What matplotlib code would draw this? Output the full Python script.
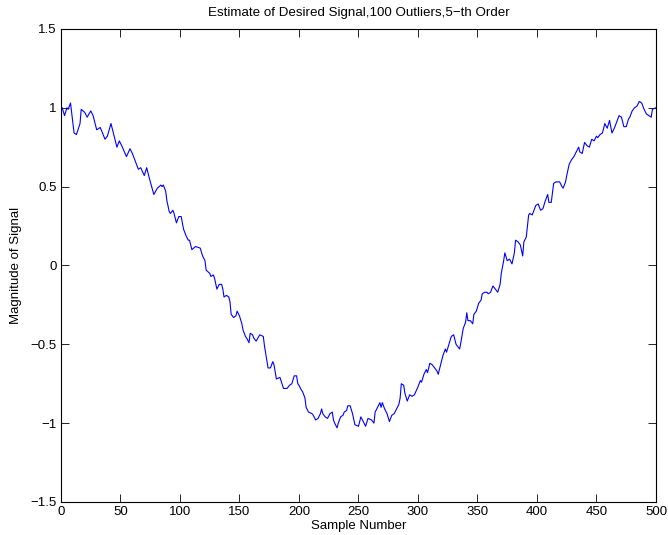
import numpy as np
import matplotlib.pyplot as plt

# sample index and signal magnitude
sample = [0, 1, 3, 5, 6, 8, 11, 13, 16, 17, 20, 22, 25, 27, 30, 33, 37, 39, 42, 44,
          47, 49, 51, 55, 58, 60, 65, 67, 70, 72, 74, 78, 81, 84, 85, 86, 88, 89, 91, 92,
          94, 95, 97, 99, 101, 103, 105, 107, 108, 110, 113, 115, 117, 119, 121, 122, 125, 126, 128, 129,
          131, 133, 135, 136, 137, 139, 141, 142, 143, 145, 147, 148, 150, 152, 153, 155, 156, 158, 159, 161,
          162, 164, 167, 170, 171, 174, 176, 178, 179, 181, 184, 187, 190, 192, 194, 196, 198, 199, 200, 202,
          203, 205, 206, 208, 211, 212, 214, 216, 218, 219, 220, 222, 224, 226, 228, 229, 230, 232, 233, 235,
          237, 238, 240, 241, 243, 245, 247, 250, 252, 254, 256, 258, 261, 263, 264, 266, 268, 269, 270, 272,
          274, 276, 278, 280, 282, 284, 285, 286, 288, 289, 291, 293, 295, 297, 300, 302, 303, 305, 307, 308,
          310, 312, 313, 316, 317, 319, 321, 323, 324, 326, 328, 330, 332, 335, 336, 338, 340, 341, 342, 344,
          346, 347, 349, 351, 353, 354, 356, 358, 359, 361, 363, 365, 367, 369, 370, 372, 373, 375, 377, 379,
          381, 382, 384, 386, 388, 389, 391, 393, 394, 396, 397, 399, 401, 403, 405, 407, 409, 410, 412, 414,
          416, 419, 421, 422, 424, 425, 427, 429, 431, 433, 435, 436, 438, 440, 442, 444, 446, 448, 450, 451,
          453, 455, 457, 459, 461, 463, 465, 467, 469, 471, 473, 475, 477, 478, 480, 482, 484, 486, 488, 490,
          492, 494, 496, 497, 500]
magnitude = [1.00, 1.00, 0.95, 1.00, 0.99, 1.03, 0.84, 0.83, 0.90, 0.99, 0.97, 0.94, 0.98, 0.95, 0.86, 0.875, 0.80, 0.82, 0.90, 0.84,
             0.75, 0.79, 0.76, 0.69, 0.74, 0.71, 0.61, 0.62, 0.57, 0.62, 0.56, 0.45, 0.49, 0.51, 0.50, 0.51, 0.47, 0.41, 0.34, 0.33,
             0.35, 0.33, 0.27, 0.31, 0.31, 0.23, 0.19, 0.16, 0.16, 0.10, 0.12, 0.115, 0.11, 0.06, 0.03, -0.03, -0.05, -0.07, -0.06, -0.08,
             -0.15, -0.12, -0.12, -0.15, -0.20, -0.19, -0.20, -0.23, -0.31, -0.33, -0.32, -0.29, -0.32, -0.37, -0.41, -0.45, -0.46, -0.49, -0.43, -0.44,
             -0.46, -0.48, -0.44, -0.45, -0.51, -0.65, -0.65, -0.61, -0.63, -0.72, -0.71, -0.78, -0.78, -0.76, -0.75, -0.70, -0.70, -0.75, -0.76, -0.79,
             -0.80, -0.84, -0.90, -0.93, -0.94, -0.95, -0.98, -0.97, -0.94, -0.91, -0.94, -0.96, -0.97, -0.94, -0.93, -0.98, -1.00, -1.03, -1.00, -0.96,
             -0.95, -0.93, -0.92, -0.89, -0.89, -0.94, -1.01, -1.02, -0.96, -0.99, -1.02, -0.97, -0.98, -1.00, -0.93, -0.90, -0.87, -0.90, -0.87, -0.91,
             -0.94, -0.99, -0.95, -0.94, -0.91, -0.88, -0.84, -0.75, -0.76, -0.81, -0.86, -0.82, -0.83, -0.82, -0.77, -0.73, -0.74, -0.69, -0.66, -0.68,
             -0.62, -0.63, -0.64, -0.67, -0.69, -0.63, -0.57, -0.53, -0.55, -0.50, -0.45, -0.44, -0.50, -0.53, -0.49, -0.40, -0.36, -0.30, -0.35, -0.35,
             -0.37, -0.31, -0.29, -0.24, -0.22, -0.18, -0.17, -0.17, -0.18, -0.17, -0.13, -0.15, -0.17, -0.12, -0.05, 0.03, 0.08, 0.03, 0.04, 0.01,
             0.08, 0.16, 0.15, 0.13, 0.06, 0.15, 0.18, 0.32, 0.33, 0.32, 0.34, 0.38, 0.39, 0.35, 0.36, 0.41, 0.45, 0.40, 0.40, 0.52,
             0.53, 0.53, 0.50, 0.49, 0.53, 0.57, 0.64, 0.67, 0.69, 0.72, 0.75, 0.72, 0.71, 0.78, 0.76, 0.75, 0.80, 0.79, 0.82, 0.81,
             0.83, 0.84, 0.90, 0.87, 0.92, 0.84, 0.87, 0.91, 0.95, 0.94, 0.88, 0.88, 0.93, 0.94, 0.98, 1.00, 1.01, 1.04, 1.03, 0.99,
             0.96, 0.95, 0.94, 0.99, 1.00]

xticks = np.arange(0, 501, 50)
yticks = [-1.5, -1, -0.5, 0, 0.5, 1, 1.5]
ytick_labels = ['\u22121.5', '\u22121', '\u22120.5', '0', '0.5', '1', '1.5']

plt.rcParams['font.family'] = ['Liberation Sans', 'DejaVu Sans']
plt.rcParams['font.size'] = 9.5

fig = plt.figure(figsize=(6.68, 5.35), dpi=100)
ax = fig.add_axes([0.0913, 0.0617, 0.8907, 0.8843])
ax.plot(sample, magnitude, color='#0000ff', linewidth=0.8)

ax.set_xlim(0, 500)
ax.set_ylim(-1.5, 1.5)
ax.set_xticks(xticks)
ax.set_yticks(yticks)
ax.set_yticklabels(ytick_labels)
ax.tick_params(direction='in', top=True, right=True, length=6, width=0.6, pad=3)
for s in ax.spines.values():
    s.set_linewidth(0.8)

ax.set_xlabel('Sample Number', labelpad=1)
ax.set_ylabel('Magnitude of Signal', labelpad=6)
ax.set_title('Estimate of Desired Signal,100 Outliers,5\u2212th Order', fontsize=9.6, pad=9)

fig.savefig('out.png', dpi=100)
